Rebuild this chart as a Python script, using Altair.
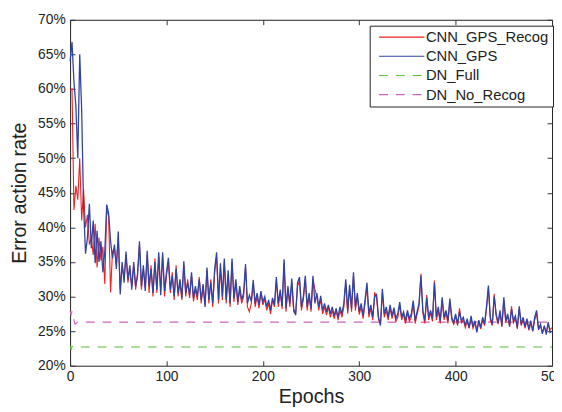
import altair as alt
import pandas as pd

epochs = list(range(0, 501, 2))

cnn_gps_recog = [
    59.8, 60.0, 42.5, 46.0, 44.0, 50.0, 41.0, 45.5, 40.0, 41.8, 37.5, 38.5, 36.0, 40.5, 34.2, 38.5, 35.2, 37.2, 31.8, 42.8, 41.5,
    30.6, 36.5, 37.0, 34.5, 38.5, 31.0, 34.5, 32.5, 36.0, 32.0, 34.0, 31.5, 34.5, 31.0, 33.5, 37.5, 31.0, 34.0, 31.2, 36.0,
    30.5, 34.5, 30.0, 35.5, 30.5, 35.8, 30.8, 36.0, 30.0, 33.0,
    35.0, 30.5, 33.5, 29.5, 34.5, 30.0, 32.0, 29.5, 34.6, 30.0, 32.5, 29.8, 33.0, 29.3, 31.0, 29.5, 32.8, 29.0, 31.5, 28.8,
    33.8, 29.0, 32.5, 28.5, 33.5, 35.8, 29.0, 34.2, 29.5, 35.0, 29.0, 33.2, 28.5, 35.0, 29.2, 32.0, 28.8, 31.0, 29.0, 30.0,
    34.2, 28.5, 27.8, 29.0, 31.8, 28.5, 30.0, 28.3, 30.5, 28.8,
    29.6, 28.0, 29.0, 27.5, 29.5, 28.5, 32.3, 28.5, 30.5, 28.2, 34.8, 27.8, 31.0, 28.5, 32.0, 27.8, 27.5, 31.5, 32.3, 28.0,
    29.5, 32.5, 28.0, 30.0, 27.8, 32.5, 31.0, 30.0, 28.0, 29.6, 27.5, 28.5, 27.3, 28.5, 27.0, 28.0, 26.8, 28.0, 26.6, 28.0,
    27.0, 28.5, 32.0, 27.5, 31.2, 27.8, 33.0, 28.0, 30.0, 27.4,
    28.5, 26.8, 29.0, 31.5, 27.0, 28.3, 26.6, 30.6, 29.8, 26.6, 26.2, 30.6, 27.0, 28.0, 26.6, 28.4, 26.8, 28.0, 26.4, 27.0,
    28.8, 26.6, 27.4, 26.1, 27.6, 26.4, 27.0, 29.0, 26.1, 27.4, 28.6, 33.3, 27.6, 26.1, 30.2, 26.6, 27.6, 26.4, 32.3, 26.6,
    28.0, 26.1, 29.5, 26.6, 27.6, 26.1, 29.3, 26.6, 26.0, 27.2,
    25.8, 28.3, 26.2, 26.6, 25.5, 26.4, 25.4, 26.8, 25.4, 26.2, 25.2, 26.3, 25.3, 26.6, 25.8, 28.2, 31.2, 26.6, 25.8, 30.4,
    27.2, 26.0, 27.6, 25.6, 29.5, 26.2, 27.2, 25.6, 28.6, 26.2, 26.8, 25.3, 28.2, 25.8, 26.6, 25.4, 26.5, 25.1, 26.2, 25.0,
    26.6, 27.6, 25.3, 25.8, 24.8, 25.6, 24.8, 26.0, 25.2, 25.5,
]

cnn_gps = [
    64.0, 66.8, 61.0, 57.5, 50.0, 65.0, 57.0, 43.0, 36.2, 38.5, 43.4, 37.0, 41.0, 34.8, 39.5, 35.0, 38.0, 33.5, 36.5, 43.3, 42.0,
    38.0, 35.5, 37.5, 34.0, 39.4, 30.3, 35.0, 32.0, 36.5, 32.5, 34.5, 31.0, 35.0, 31.5, 33.0, 38.0, 31.5, 34.5, 30.8, 36.6,
    31.5, 34.0, 30.5, 35.0, 31.0, 36.4, 30.2, 36.4, 30.8, 33.5,
    35.6, 31.0, 33.0, 30.0, 34.0, 30.5, 32.5, 29.8, 35.1, 30.5, 32.0, 30.2, 33.5, 29.8, 31.5, 30.0, 32.5, 29.5, 31.8, 28.5,
    34.2, 29.5, 32.0, 29.0, 34.0, 36.4, 29.5, 34.8, 30.0, 35.5, 29.5, 33.8, 29.0, 35.5, 29.8, 32.5, 29.2, 31.5, 29.5, 30.5,
    34.7, 29.0, 30.2, 29.3, 32.4, 29.0, 30.5, 28.8, 30.8, 29.2,
    30.0, 28.5, 29.5, 28.0, 29.8, 28.8, 32.8, 29.0, 31.0, 28.6, 35.4, 28.3, 31.5, 29.0, 32.6, 28.2, 27.3, 32.0, 32.8, 28.5,
    30.0, 33.0, 28.5, 30.5, 28.2, 33.0, 29.0, 30.5, 28.5, 30.1, 28.0, 29.0, 27.8, 28.8, 27.5, 28.5, 27.2, 28.3, 27.0, 28.5,
    27.5, 29.0, 32.5, 28.0, 31.7, 28.2, 33.5, 28.5, 30.5, 27.8,
    29.0, 27.2, 29.5, 32.0, 27.5, 28.8, 27.0, 30.0, 30.3, 27.0, 25.8, 31.1, 27.5, 28.5, 27.0, 28.8, 27.2, 28.4, 26.8, 27.5,
    29.2, 27.0, 27.8, 26.5, 28.0, 26.8, 27.5, 29.4, 26.5, 27.8, 29.0, 33.0, 28.0, 26.5, 29.9, 27.0, 28.0, 26.8, 32.0, 27.0,
    28.5, 26.5, 29.9, 27.0, 28.0, 26.5, 29.7, 27.0, 26.2, 27.5,
    26.0, 27.8, 26.5, 27.0, 25.8, 26.8, 25.5, 27.2, 25.6, 26.5, 24.8, 26.6, 25.5, 27.0, 26.0, 28.5, 31.6, 27.0, 26.0, 30.0,
    27.5, 26.2, 28.0, 25.8, 29.9, 26.5, 27.5, 25.8, 28.2, 26.5, 27.2, 25.5, 28.6, 26.0, 27.0, 25.6, 26.8, 25.3, 26.5, 25.0,
    27.0, 28.0, 25.2, 26.0, 24.6, 25.8, 24.5, 26.3, 24.8, 25.0,
]

dn_epochs = [0, 1, 2, 5, 8, 500]
dn_full = [22.9, 22.3, 22.8, 22.7, 22.7, 22.7]
dn_no_recog = [27.9, 27.3, 27.9, 26.0, 26.3, 26.3]

series_order = ["CNN_GPS_Recog", "CNN_GPS", "DN_Full", "DN_No_Recog"]
series_colors = ["#ee2020", "#2f44a4", "#5cbf3a", "#cc66bb"]
series_dashes = [[1, 0], [1, 0], [9, 8], [9, 8]]

df_red = pd.DataFrame({"epoch": epochs, "rate": cnn_gps_recog, "series": "CNN_GPS_Recog"})
df_blue = pd.DataFrame({"epoch": epochs, "rate": cnn_gps, "series": "CNN_GPS"})
df_dn = pd.concat([
    pd.DataFrame({"epoch": dn_epochs, "rate": dn_full, "series": "DN_Full"}),
    pd.DataFrame({"epoch": dn_epochs, "rate": dn_no_recog, "series": "DN_No_Recog"}),
])

FONT = "Liberation Sans"
TXT = "#222222"

legend = alt.Legend(
    title=None, orient="none", legendX=304, legendY=6,
    symbolType="M-4,0H4", symbolSize=132, symbolStrokeWidth=1.2,
    symbolOffset=21, labelOffset=17,
    labelFontSize=15, labelFont=FONT, labelColor=TXT, labelLimit=300,
    strokeColor="#222222", fillColor="white", padding=4, rowPadding=3.5,
)

color = alt.Color("series:N", scale=alt.Scale(domain=series_order, range=series_colors), legend=legend)
dash = alt.StrokeDash("series:N", scale=alt.Scale(domain=series_order, range=series_dashes), legend=legend)

xscale = alt.Scale(domain=[0, 500], nice=False)
yscale = alt.Scale(domain=[20, 70], nice=False)
yticks = list(range(20, 71, 5))
xticks = list(range(0, 501, 100))

x_main = alt.X("epoch:Q", scale=xscale, title="Epochs", axis=alt.Axis(
    orient="bottom", values=xticks, offset=-5, tickSize=5, tickColor="#333333",
    domain=False, grid=False, labelPadding=4, labelFontSize=14, labelFont=FONT,
    labelColor=TXT, titleFont=FONT, titleFontSize=20, titleFontWeight="normal",
    titleColor=TXT, titlePadding=3, labelFlush=False))
y_main = alt.Y("rate:Q", scale=yscale, title="Error action rate", axis=alt.Axis(
    orient="left", values=yticks, offset=-5, tickSize=5, tickColor="#333333",
    domain=False, grid=False, labelPadding=5, labelFontSize=14, labelFont=FONT,
    labelColor=TXT, labelExpr="datum.value + '%'", titleFont=FONT, titleFontSize=20,
    titleFontWeight="normal", titleColor=TXT, titlePadding=8))

x_top = alt.X("epoch:Q", scale=xscale, axis=alt.Axis(
    orient="top", values=xticks, offset=-5, tickSize=5, tickColor="#333333",
    domain=False, grid=False, labels=False, title=None))
y_right = alt.Y("rate:Q", scale=yscale, axis=alt.Axis(
    orient="right", values=yticks, offset=-5, tickSize=5, tickColor="#333333",
    domain=False, grid=False, labels=False, title=None))

dn_layer = alt.Chart(df_dn).mark_line(strokeWidth=1.1).encode(
    x=x_top, y=y_right, color=color, strokeDash=dash, detail="series:N")
red_layer = alt.Chart(df_red).mark_line(strokeWidth=1.1).encode(
    x=x_main, y=y_main, color=color, strokeDash=dash)
blue_layer = alt.Chart(df_blue).mark_line(strokeWidth=1.3).encode(
    x=alt.X("epoch:Q", scale=xscale, axis=None),
    y=alt.Y("rate:Q", scale=yscale, axis=None),
    color=color, strokeDash=dash)

chart = alt.layer(dn_layer, red_layer, blue_layer).resolve_axis(
    x="independent", y="independent"
).properties(
    width=489, height=351,
    padding={"left": 63, "top": 9, "right": 2, "bottom": 44},
    autosize=alt.AutoSizeParams(type="none"),
    background="white",
).configure_view(stroke="#222222", strokeWidth=1)

chart.save("out.html", embed_options={"renderer": "svg", "actions": False})
